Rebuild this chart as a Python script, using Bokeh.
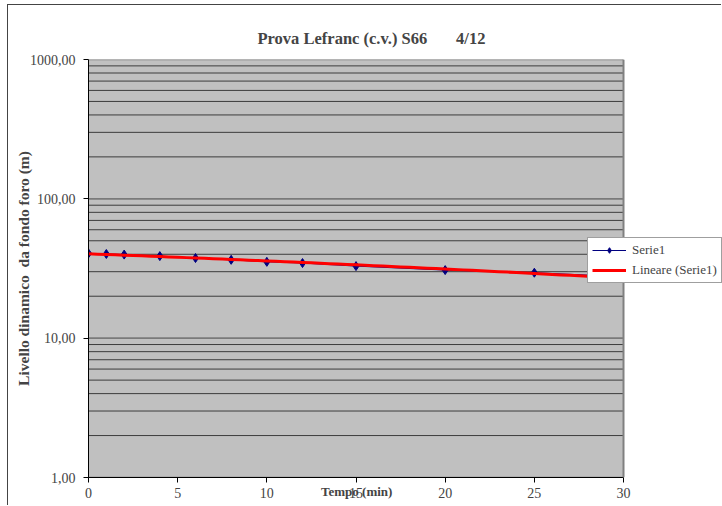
import numpy as np
from bokeh.plotting import figure
from bokeh.models import FixedTicker, Legend, LegendItem, BoxAnnotation, Span
from bokeh.embed import file_html
from bokeh.resources import INLINE

# Lefranc test readings: time (min) vs dynamic level above hole bottom (m)
tempo = [0, 1, 2, 4, 6, 8, 10, 12, 15, 20, 25, 30]
livello = [40.6, 40.2, 39.8, 38.8, 37.6, 36.5, 35.3, 34.6, 32.9, 30.8, 29.5, 27.6]

x_ticks = [0, 5, 10, 15, 20, 25, 30]
y_ticks = [1, 10, 100, 1000]
y_tick_labels = ["1,00", "10,00", "100,00", "1000,00"]

# Linear trendline (least squares on the raw values)
b, a = np.polyfit(tempo, livello, 1)
xt = np.linspace(min(tempo), max(tempo), 61)
yt = a + b * xt

FONT = "Liberation Serif"
X_MAX = 30
PLOT_W = 535          # pixel width of the grey plot area
FRAME_W = 634         # frame runs on to the right edge so the legend can overhang

p = figure(width=714, height=501, y_axis_type="log",
           x_range=(0, X_MAX * FRAME_W / PLOT_W), y_range=(1, 1000),
           output_backend="svg", toolbar_location=None,
           min_border_left=80, min_border_right=0,
           min_border_top=54, min_border_bottom=29,
           background_fill_color="white", border_fill_color="white")
p.styles = {"border-left": "1px solid #444", "border-top": "1px solid #444",
            "margin-left": "7px", "margin-top": "4px"}
p.outline_line_color = None

p.title.text = "Prova Lefranc (c.v.) S66" + "\u00a0" * 7 + "4/12"
p.title.align = "left"
p.title.offset = 169
p.title.text_font = FONT
p.title.text_font_style = "bold"
p.title.text_font_size = "16.5px"
p.title.standoff = 23

# grey plot area, limited to the 0-30 min span
p.add_layout(BoxAnnotation(left=0, right=X_MAX, fill_color="#C0C0C0",
                           fill_alpha=1, line_color=None, level="underlay"))

# horizontal gridlines, drawn only across the plot area
minor = [k * 10 ** d for d in range(3) for k in range(2, 10)]
p.segment(x0=[0] * len(minor), x1=[X_MAX] * len(minor), y0=minor, y1=minor,
          line_color="#3c3c3c", line_width=1)
p.segment(x0=[0] * len(y_ticks), x1=[X_MAX] * len(y_ticks), y0=y_ticks, y1=y_ticks,
          line_color="#7a7a7a", line_width=1.6)
p.add_layout(Span(location=X_MAX, dimension="height", line_color="#808080",
                  line_width=2))
p.xgrid.grid_line_color = None
p.ygrid.grid_line_color = None

# x axis
xa = p.xaxis[0]
xa.bounds = (0, X_MAX)
xa.ticker = FixedTicker(ticks=x_ticks)
xa.axis_label = "Tempo (min)" + "\u00a0" * 30
xa.axis_label_text_font = FONT
xa.axis_label_text_font_style = "bold"
xa.axis_label_text_font_size = "13px"
xa.axis_label_standoff = -17
xa.major_label_text_font = FONT
xa.major_label_text_font_size = "14px"
xa.major_label_standoff = 5
xa.axis_line_color = "black"
xa.major_tick_line_color = "black"
xa.major_tick_in = 0
xa.major_tick_out = 5
xa.minor_tick_line_color = None

# y axis (log)
ya = p.yaxis[0]
ya.ticker = FixedTicker(ticks=y_ticks, minor_ticks=minor)
ya.major_label_overrides = {t: s for t, s in zip(y_ticks, y_tick_labels)}
ya.axis_label = "Livello dinamico\u00a0\u00a0da fondo foro (m)"
ya.axis_label_text_font = FONT
ya.axis_label_text_font_style = "bold"
ya.axis_label_text_font_size = "15.5px"
ya.axis_label_standoff = -5
ya.major_label_text_font = FONT
ya.major_label_text_font_size = "14px"
ya.major_label_standoff = 8
ya.axis_line_color = "black"
ya.major_tick_line_color = "black"
ya.major_tick_in = 0
ya.major_tick_out = 5
ya.minor_tick_line_color = None

# series
s_line = p.line(tempo, livello, line_color="#000080", line_width=1)
s_pts = p.scatter(tempo, livello, marker="diamond", size=9,
                  fill_color="#000080", line_color="#000080")
trend = p.line(xt, yt, line_color="#FF0000", line_width=3)

legend = Legend(items=[
    LegendItem(label="Serie1", renderers=[s_line, s_pts]),
    LegendItem(label="Lineare (Serie1)", renderers=[trend]),
], location=(499, 194))
legend.label_text_font = FONT
legend.label_text_font_size = "13px"
legend.glyph_width = 34
legend.glyph_height = 14
legend.label_height = 14
legend.label_standoff = 6
legend.spacing = 4
legend.padding = 4
legend.margin = 0
legend.border_line_color = "#404040"
legend.border_line_width = 1
legend.background_fill_color = "white"
legend.background_fill_alpha = 1
p.add_layout(legend)

open("out.html", "w").write(file_html(p, INLINE))
